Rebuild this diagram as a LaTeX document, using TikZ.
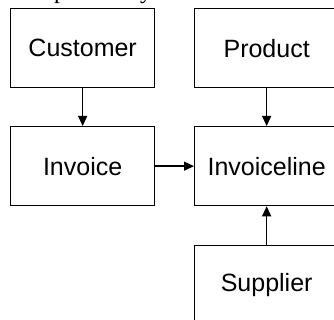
\documentclass[tikz,border=0pt]{standalone}
\usepackage{fontspec}
\setmainfont{Liberation Sans}
\newfontfamily\serifpart{Liberation Serif}
\usetikzlibrary{arrows.meta}
\begin{document}
\begin{tikzpicture}[x=1pt,y=-1pt,
  entity/.style={draw=black,line width=1.3pt,minimum width=144pt,minimum height=79pt,inner sep=0pt,anchor=north west,font=\fontsize{25}{30}\selectfont},
  link/.style={line width=1.3pt,-{Triangle[length=10pt,width=9pt]}},
  frag/.style={font=\serifpart\fontsize{24}{28}\selectfont,inner sep=0pt,anchor=base}]
\useasboundingbox (0,0) rectangle (334,320);
\begin{scope}
\clip (0,0) rectangle (334,320);
\node[frag] (fp) at (60,-1) {p};
\node[frag] (fy) at (146,-1) {y};
\node[entity] (customer) at (10,8) {Customer};
\node[entity] (product) at (194,8) {Product};
\node[entity] (invoice) at (10,126) {Invoice};
\node[entity] (invoiceline) at (194,126) {Invoiceline};
\node[entity] (supplier) at (194,245) {Supplier};
\draw[link] (customer.south) -- (invoice.north);
\draw[link] (product.south) -- (invoiceline.north);
\draw[link] (supplier.north) -- (invoiceline.south);
\draw[link] (invoice.east) -- (invoiceline.west);
\end{scope}
\end{tikzpicture}
\end{document}
